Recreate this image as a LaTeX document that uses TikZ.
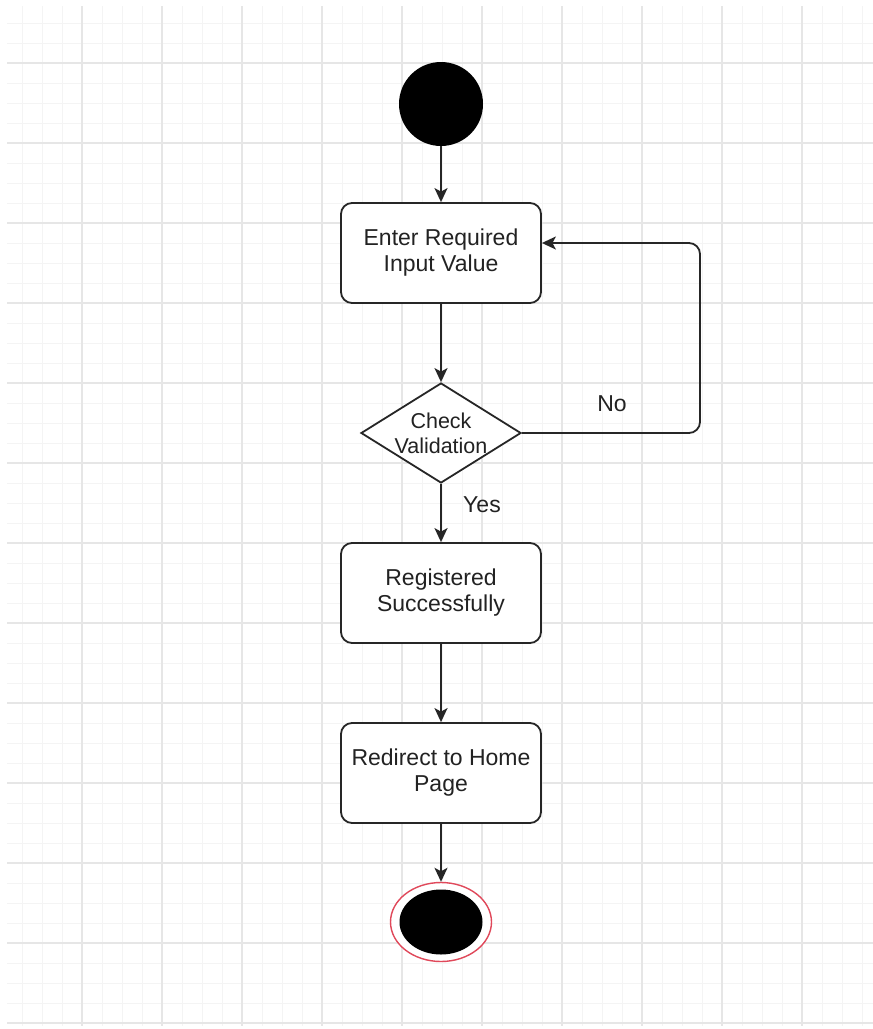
\documentclass[tikz,border=0pt]{standalone}
\usepackage{fontspec}
\setmainfont{Liberation Sans}
\usetikzlibrary{shapes.geometric,arrows.meta}
\definecolor{ink}{HTML}{222222}
\definecolor{edge}{HTML}{262626}
\definecolor{gridmajor}{HTML}{E6E6E6}
\definecolor{gridminor}{HTML}{F4F4F4}
\definecolor{ring}{HTML}{E0485A}
\tikzset{
  activity/.style={draw=edge, line width=1.8pt, rounded corners=11pt, fill=white,
    minimum width=200pt, minimum height=100pt, inner sep=0pt, align=center,
    text=ink, font=\fontsize{23}{26}\selectfont},
  decision/.style={draw=edge, line width=1.8pt, diamond, fill=white,
    minimum width=160pt, minimum height=100pt, inner sep=0pt},
  flow/.style={draw=edge, line width=1.8pt, -{Stealth[length=14pt,width=13pt,inset=3.5pt]}},
  guard/.style={text=ink, font=\fontsize{23}{26}\selectfont},
}
\begin{document}
\begin{tikzpicture}[x=1pt,y=-1pt]
\useasboundingbox (0,0) rectangle (873,1029);
\fill[white] (0,0) rectangle (873,1029);
% background grid
\begin{scope}
  \clip (7,6) rectangle (873,1025);
  \foreach \gx in {2,22,...,882} \draw[gridminor, line width=1pt] (\gx,0) -- (\gx,1029);
  \foreach \gy in {3,23,...,1043} \draw[gridminor, line width=1pt] (0,\gy) -- (873,\gy);
  \foreach \gx in {2,82,...,882} \draw[gridmajor, line width=1.6pt] (\gx,0) -- (\gx,1029);
  \foreach \gy in {63,143,...,1043} \draw[gridmajor, line width=1.6pt] (0,\gy) -- (873,\gy);
\end{scope}

% nodes
\node[circle, fill=black, minimum size=84pt, inner sep=0pt] (start) at (441,104) {};
\node[activity] (enter) at (441,253) {Enter Required\\Input Value};
\node[decision, label={[align=center, text=ink, font=\fontsize{21.5}{25}\selectfont]center:Check\\Validation}] (check) at (441,433) {};
\node[activity] (registered) at (441,593) {Registered\\Successfully};
\node[activity] (redirect) at (441,773) {Redirect to Home\\Page};
\node[ellipse, draw=ring, line width=1.4pt, fill=white, minimum width=101pt, minimum height=79pt, inner sep=0pt] (final) at (441,922) {};
\node[ellipse, fill=black, minimum width=83pt, minimum height=65pt, inner sep=0pt] (finalcore) at (final.center) {};

% connectors
\draw[flow] (start) -- (enter);
\draw[flow] (enter) -- (check);
\draw[flow] (check) -- (registered);
\draw[flow] (registered) -- (redirect);
\draw[flow] (redirect) -- (final);
\coordinate (loopcorner) at (700,433);
\draw[flow, rounded corners=11pt] (check.east) -- (loopcorner) -- (loopcorner |- 0,243) -- ([yshift=10pt]enter.east);

% guards
\node[guard] (no) at (612,404) {No};
\node[guard] (yes) at (482,505) {Yes};
\end{tikzpicture}
\end{document}
